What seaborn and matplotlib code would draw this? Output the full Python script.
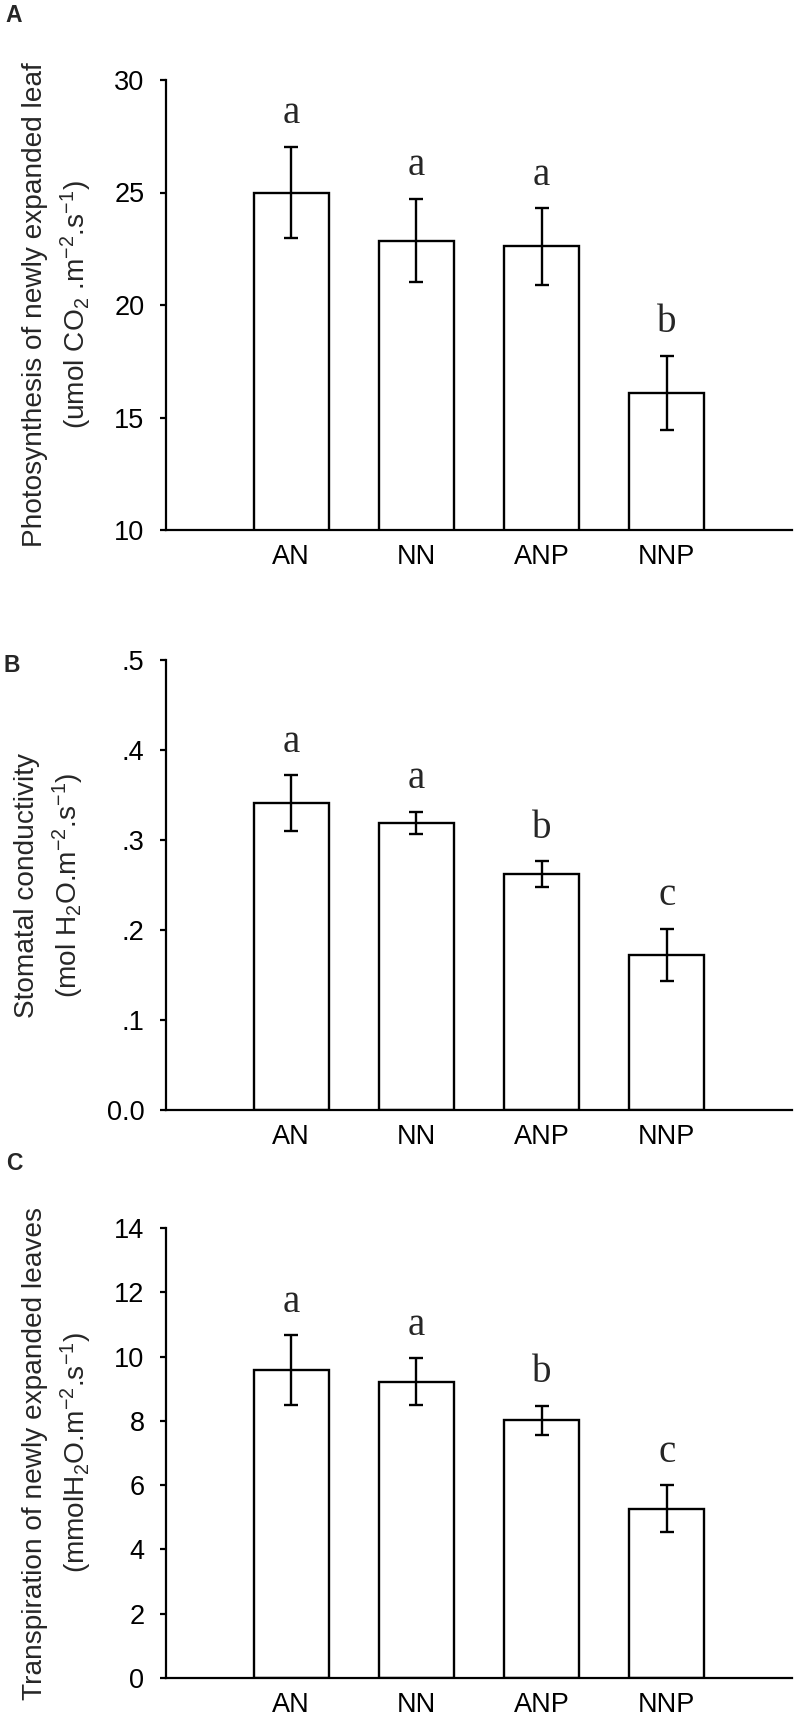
import matplotlib
matplotlib.use('Agg')
import matplotlib.pyplot as plt
import seaborn as sns

treatments = ['AN', 'NN', 'ANP', 'NNP']

# panel A - photosynthesis
photo_mean = [25.0, 22.86, 22.6, 16.1]
photo_err = [2.03, 1.85, 1.7, 1.65]
photo_letters = ['a', 'a', 'a', 'b']
photo_ticks = [10, 15, 20, 25, 30]
photo_ticklabels = ['10', '15', '20', '25', '30']

# panel B - stomatal conductivity
cond_mean = [0.341, 0.319, 0.262, 0.172]
cond_err = [0.031, 0.0125, 0.0145, 0.029]
cond_letters = ['a', 'a', 'b', 'c']
cond_ticks = [0.0, 0.1, 0.2, 0.3, 0.4, 0.5]
cond_ticklabels = ['0.0', '.1', '.2', '.3', '.4', '.5']

# panel C - transpiration
trans_mean = [9.58, 9.22, 8.02, 5.26]
trans_err = [1.08, 0.73, 0.45, 0.73]
trans_letters = ['a', 'a', 'b', 'c']
trans_ticks = [0, 2, 4, 6, 8, 10, 12, 14]
trans_ticklabels = ['0', '2', '4', '6', '8', '10', '12', '14']

sns.set_style('ticks')
plt.rcParams['font.family'] = ['Liberation Sans', 'DejaVu Sans']
plt.rcParams['mathtext.fontset'] = 'custom'
plt.rcParams['mathtext.rm'] = 'Liberation Sans'
plt.rcParams['mathtext.it'] = 'Liberation Sans:italic'
plt.rcParams['mathtext.bf'] = 'Liberation Sans:bold'

W, H = 800, 1728
fig = plt.figure(figsize=(8, 17.28), dpi=100)

panels = [
    dict(tag='A', mean=photo_mean, err=photo_err, letters=photo_letters,
         ticks=photo_ticks, ticklabels=photo_ticklabels, ylim=(10, 30),
         label='Photosynthesis of newly expanded leaf\n(umol CO$_2$ .m$^{-2}$.s$^{-1}$)',
         top=80, tagx=14, tagy=16, labx=94),
    dict(tag='B', mean=cond_mean, err=cond_err, letters=cond_letters,
         ticks=cond_ticks, ticklabels=cond_ticklabels, ylim=(0, 0.5),
         label='Stomatal conductivity\n(mol H$_2$O.m$^{-2}$.s$^{-1}$)',
         top=660, tagx=12, tagy=665, labx=86),
    dict(tag='C', mean=trans_mean, err=trans_err, letters=trans_letters,
         ticks=trans_ticks, ticklabels=trans_ticklabels, ylim=(0, 14),
         label='Transpiration of newly expanded leaves\n(mmolH$_2$O.m$^{-2}$.s$^{-1}$)',
         top=1228, tagx=14, tagy=1164, labx=94),
]

ax_left, ax_right, ax_h = 166, 792, 450

for p in panels:
    ax = fig.add_axes([ax_left / W, 1 - (p['top'] + ax_h) / H,
                       (ax_right - ax_left) / W, ax_h / H])
    sns.barplot(x=treatments, y=p['mean'], color='white', edgecolor='black',
                linewidth=1.7, width=0.6, saturation=1, errorbar=None, ax=ax)
    ax.errorbar(range(len(treatments)), p['mean'], yerr=p['err'], fmt='none',
                ecolor='black', elinewidth=1.7, capsize=5, capthick=1.7)
    for i, (m, e, let) in enumerate(zip(p['mean'], p['err'], p['letters'])):
        ax.annotate(let, (i, m + e), xytext=(0, 17), textcoords='offset points',
                    ha='center', va='baseline', fontsize=28,
                    family=['Liberation Serif', 'DejaVu Serif'])
    ax.set_xlim(-1, 4)
    ax.set_ylim(*p['ylim'])
    ax.set_yticks(p['ticks'])
    ax.set_yticklabels(p['ticklabels'])
    sns.despine(ax=ax)
    for s in ['left', 'bottom']:
        ax.spines[s].set_linewidth(1.6)
        ax.spines[s].set_color('black')
    ax.tick_params(axis='y', length=4.5, width=1.6, pad=11, labelsize=19.5,
                   colors='black')
    ax.tick_params(axis='x', length=0, pad=10, labelsize=19.5, colors='black')
    ax.set_xlabel('')
    ax.set_ylabel(p['label'], fontsize=20.2, linespacing=1.4)
    ax.yaxis.set_label_coords((p['labx'] - ax_left) / (ax_right - ax_left), 0.5)
    fig.text(p['tagx'] / W, 1 - p['tagy'] / H, p['tag'], ha='center',
             va='center', fontsize=16.5, fontweight='bold')

fig.savefig('out.png', dpi=100, facecolor='white')
